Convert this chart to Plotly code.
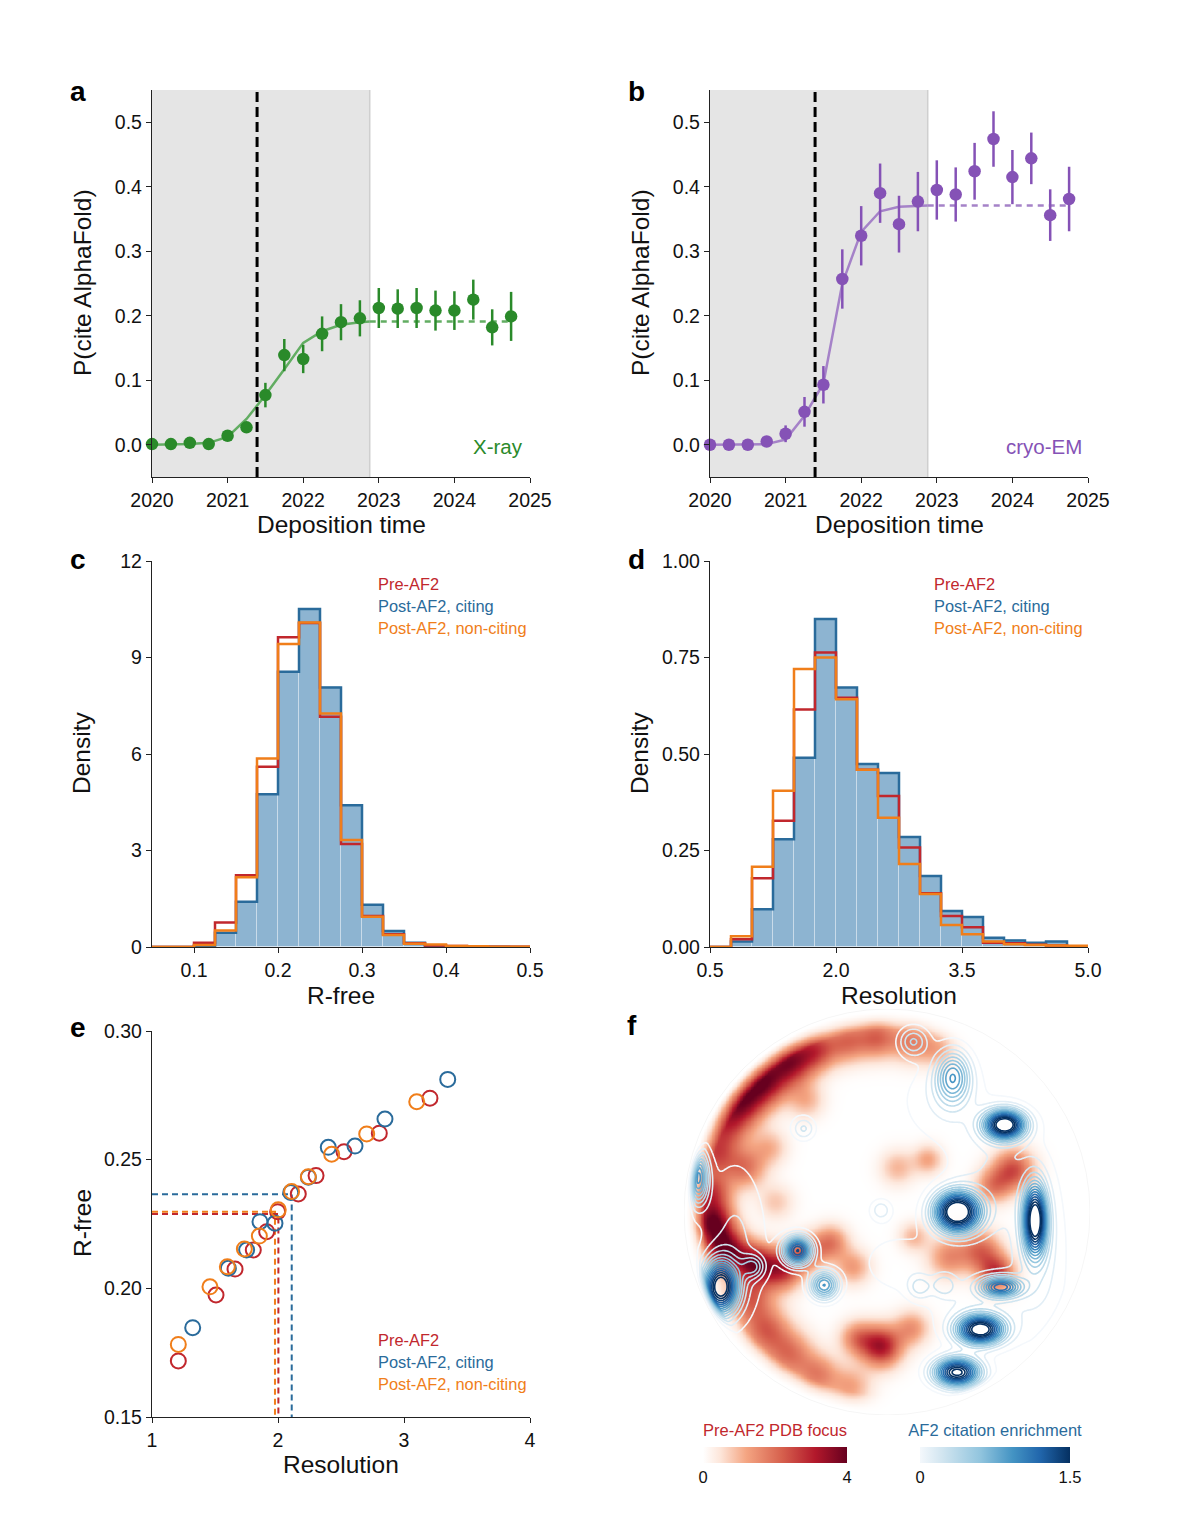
import numpy as np
import plotly.graph_objects as go

FONT = "Liberation Sans, Arial, Helvetica, sans-serif"
W, H = 1180, 1522

# ---------------- Panels a / b data ----------------
time_q = [2020.0, 2020.25, 2020.5, 2020.75, 2021.0, 2021.25, 2021.5, 2021.75, 2022.0, 2022.25,
          2022.5, 2022.75, 2023.0, 2023.25, 2023.5, 2023.75, 2024.0, 2024.25, 2024.5, 2024.75]
xray_p = [0.001, 0.001, 0.003, 0.001, 0.014, 0.027, 0.077, 0.139, 0.133, 0.172,
          0.190, 0.196, 0.212, 0.211, 0.212, 0.208, 0.208, 0.225, 0.182, 0.199]
xray_err = [0.001, 0.001, 0.002, 0.002, 0.004, 0.006, 0.019, 0.025, 0.022, 0.027,
            0.028, 0.028, 0.031, 0.030, 0.031, 0.031, 0.030, 0.031, 0.028, 0.038]
cryo_p = [0.0, 0.0, 0.0, 0.005, 0.017, 0.051, 0.093, 0.257, 0.324, 0.390,
          0.342, 0.377, 0.395, 0.388, 0.424, 0.474, 0.415, 0.444, 0.356, 0.381]
cryo_err = [0.001, 0.001, 0.001, 0.004, 0.013, 0.023, 0.029, 0.046, 0.046, 0.046,
            0.044, 0.046, 0.046, 0.042, 0.044, 0.043, 0.042, 0.040, 0.040, 0.050]
fit_t = [2020.0, 2020.25, 2020.5, 2020.75, 2021.0, 2021.25, 2021.5, 2021.75, 2022.0,
         2022.25, 2022.5, 2022.75, 2022.88]
xray_fit = [0.0, 0.0, 0.001, 0.003, 0.012, 0.040, 0.077, 0.117, 0.158, 0.176, 0.186, 0.190, 0.191]
cryo_fit = [0.0, 0.0, 0.0, 0.001, 0.008, 0.045, 0.095, 0.250, 0.330, 0.362, 0.369, 0.371, 0.371]
xray_plateau = 0.191
cryo_plateau = 0.371
plateau_t = [2022.88, 2024.75]
af2_release = 2021.39
window_end = 2022.88

# ---------------- Panel c / d data ----------------
rfree_edges = [0.05, 0.075, 0.1, 0.125, 0.15, 0.175, 0.2, 0.225, 0.25, 0.275, 0.3,
               0.325, 0.35, 0.375, 0.4, 0.425, 0.45, 0.475, 0.5]
rfree_citing = [0, 0, 0.04, 0.44, 1.41, 4.75, 8.56, 10.51, 8.07, 4.41, 1.31, 0.50, 0.13, 0.03, 0.02, 0.01, 0.005, 0.0]
rfree_pre = [0, 0, 0.13, 0.76, 2.23, 5.60, 9.63, 10.07, 7.16, 3.20, 0.96, 0.40, 0.12, 0.05, 0.03, 0.02, 0.01, 0.005]
rfree_noncit = [0, 0, 0.06, 0.51, 2.17, 5.86, 9.42, 10.09, 7.26, 3.33, 0.94, 0.37, 0.10, 0.08, 0.03, 0.02, 0.01, 0.005]

res_edges = [0.5, 0.75, 1.0, 1.25, 1.5, 1.75, 2.0, 2.25, 2.5, 2.75, 3.0, 3.25, 3.5,
             3.75, 4.0, 4.25, 4.5, 4.75, 5.0]
res_citing = [0, 0.014, 0.098, 0.279, 0.49, 0.85, 0.672, 0.474, 0.451, 0.285, 0.184, 0.093, 0.078, 0.024, 0.017, 0.011, 0.014, 0.0]
res_pre = [0, 0.020, 0.178, 0.327, 0.615, 0.763, 0.646, 0.459, 0.391, 0.258, 0.139, 0.080, 0.051, 0.011, 0.010, 0.006, 0.004, 0.002]
res_noncit = [0, 0.028, 0.208, 0.405, 0.720, 0.750, 0.642, 0.459, 0.335, 0.215, 0.137, 0.057, 0.033, 0.014, 0.007, 0.005, 0.004, 0.003]

# ---------------- Panel e data ----------------
e_pre_res = [1.209, 1.508, 1.659, 1.804, 1.910, 1.997, 2.161, 2.302, 2.524, 2.804, 3.206]
e_pre_rfree = [0.1718, 0.1974, 0.2075, 0.2149, 0.2220, 0.2298, 0.2367, 0.2438, 0.2531, 0.2603, 0.2739]
e_cit_res = [1.323, 1.606, 1.751, 1.857, 1.976, 2.101, 2.241, 2.399, 2.611, 2.849, 3.347]
e_cit_rfree = [0.1847, 0.2078, 0.2149, 0.2259, 0.2253, 0.2372, 0.2432, 0.2548, 0.2553, 0.2658, 0.2812]
e_non_res = [1.209, 1.460, 1.598, 1.733, 1.852, 2.002, 2.108, 2.241, 2.426, 2.704, 3.101]
e_non_rfree = [0.1782, 0.2006, 0.2084, 0.2153, 0.2203, 0.2305, 0.2376, 0.2434, 0.2521, 0.2600, 0.2725]
median_res = {"pre": 2.003, "cit": 2.109, "non": 1.976}
median_rfree = {"pre": 0.2289, "cit": 0.2366, "non": 0.2298}

# ---------------- Panel f data (density blobs, unit-disc coordinates) ----------------
red_u = [-0.72, -0.61, -0.48, -0.35, -0.20, -0.05, 0.12, 0.25, -0.80, -0.85, -0.70, -0.87, -0.86,
         -0.80, -0.66, -0.52, -0.40, -0.28, -0.17, -0.68, -0.60, -0.48, -0.34, -0.18, -0.58,
         -0.03, -0.15, 0.12, 0.62, 0.52, 0.46, 0.30, 0.54, 0.13, 0.05, 0.20, -0.55, -0.40]
red_v = [0.54, 0.64, 0.74, 0.80, 0.84, 0.86, 0.84, 0.80, 0.42, 0.28, 0.22, 0.10, -0.05,
         -0.18, -0.25, -0.28, -0.20, -0.15, -0.27, -0.42, -0.58, -0.70, -0.80, -0.86, 0.32,
         -0.66, -0.62, -0.57, 0.21, 0.13, -0.19, -0.22, -0.30, -0.12, 0.22, 0.26, 0.05, 0.55]
red_amp = [3.0, 3.2, 3.2, 2.2, 1.8, 2.0, 1.6, 1.0, 2.2, 2.0, 1.8, 2.5, 3.6,
           3.6, 3.2, 2.8, 1.8, 1.8, 1.3, 2.0, 2.0, 1.8, 1.6, 1.2, 1.0,
           3.2, 1.6, 1.4, 2.4, 1.6, 2.0, 1.5, 2.6, 1.0, 1.0, 1.2, 0.8, 1.0]
red_sig = [0.08, 0.08, 0.08, 0.07, 0.07, 0.07, 0.07, 0.06, 0.08, 0.07, 0.07, 0.07, 0.07,
           0.07, 0.07, 0.07, 0.06, 0.06, 0.06, 0.08, 0.08, 0.08, 0.07, 0.07, 0.06,
           0.07, 0.06, 0.06, 0.07, 0.06, 0.07, 0.07, 0.06, 0.05, 0.06, 0.05, 0.06, 0.06]

blue_u = [0.325, 0.58, 0.345, 0.73, 0.56, 0.46, 0.345, -0.82, -0.44, -0.31, -0.93, -0.41, 0.13,
          -0.66, -0.03, 0.16, 0.28, 0.55, -0.75, 0.45, 0.25, 0.05, 0.75, -0.55]
blue_v = [0.665, 0.43, 0.0, -0.04, -0.37, -0.58, -0.79, -0.37, -0.19, -0.36, 0.17, 0.41, 0.84,
          -0.27, 0.01, -0.37, -0.36, 0.15, -0.15, -0.45, 0.55, -0.25, -0.25, 0.65]
blue_amp = [0.8, 1.65, 1.75, 1.56, 1.0, 1.57, 1.56, 1.55, 1.3, 0.9, 0.9, 0.3, 0.4,
            0.4, 0.25, 0.25, 0.25, 0.22, 0.22, 0.2, 0.16, 0.15, 0.2, 0.08]
blue_su = [0.06, 0.07, 0.08, 0.04, 0.07, 0.08, 0.08, 0.06, 0.05, 0.05, 0.035, 0.04, 0.05,
           0.04, 0.04, 0.04, 0.04, 0.18, 0.12, 0.18, 0.15, 0.15, 0.1, 0.15]
blue_sv = [0.09, 0.05, 0.07, 0.12, 0.035, 0.05, 0.05, 0.09, 0.05, 0.05, 0.09, 0.04, 0.05,
           0.04, 0.04, 0.04, 0.04, 0.25, 0.3, 0.15, 0.15, 0.12, 0.25, 0.15]

# colours
C_RED = "#c1272d"
C_BLUE = "#2a6b9b"
C_ORANGE = "#f07e1a"
C_FILL = "#8db4d1"
C_GREEN = "#2a8a2a"
C_GREEN_L = "#62ad62"
C_PURPLE = "#8552b6"
C_PURPLE_L = "#a582c8"
AXC = "#222222"

fig = go.Figure()


def xd(a, b):
    return [a / W, b / W]


def yd(top, bot):
    return [1 - bot / H, 1 - top / H]


# ---------------- panels a/b ----------------
def time_panel(xa, ya, vals, errs, fit, plateau, col, col_l):
    fig.add_trace(go.Scatter(x=fit_t, y=fit, mode="lines", line=dict(color=col_l, width=2.5),
                             xaxis=xa, yaxis=ya, showlegend=False, hoverinfo="skip"))
    fig.add_trace(go.Scatter(x=plateau_t, y=[plateau, plateau], mode="lines",
                             line=dict(color=col_l, width=2.5, dash="6px,5px"),
                             xaxis=xa, yaxis=ya, showlegend=False))
    fig.add_trace(go.Scatter(x=time_q, y=vals, mode="markers",
                             marker=dict(color=col, size=12.5),
                             error_y=dict(type="data", array=errs, color=col, thickness=2.5, width=0),
                             xaxis=xa, yaxis=ya, showlegend=False, cliponaxis=False))


time_panel("x", "y", xray_p, xray_err, xray_fit, xray_plateau, C_GREEN, C_GREEN_L)
time_panel("x2", "y2", cryo_p, cryo_err, cryo_fit, cryo_plateau, C_PURPLE, C_PURPLE_L)

for xr, yr in [("x", "y"), ("x2", "y2")]:
    fig.add_shape(type="rect", xref=xr, yref=yr, x0=2020, x1=window_end, y0=-0.05, y1=0.55,
                  fillcolor="#e5e5e5", line=dict(width=0), layer="below")
    fig.add_shape(type="line", xref=xr, yref=yr, x0=window_end, x1=window_end, y0=-0.05, y1=0.55,
                  line=dict(color="#cfcfcf", width=1.5), layer="below")
    fig.add_shape(type="line", xref=xr, yref=yr, x0=af2_release, x1=af2_release, y0=-0.05, y1=0.55,
                  line=dict(color="black", width=3, dash="10px,5px"))


# ---------------- panels c/d ----------------
def hist_panel(xa, ya, edges, cit, pre, non):
    centers = [(edges[i] + edges[i + 1]) / 2 for i in range(len(edges) - 1)]
    width = edges[1] - edges[0]
    fig.add_trace(go.Bar(x=centers, y=cit, width=width, marker=dict(color=C_FILL,
                         line=dict(color="rgba(255,255,255,0.3)", width=1)),
                         xaxis=xa, yaxis=ya, showlegend=False))
    for vals, col in [(cit, C_BLUE), (pre, C_RED), (non, C_ORANGE)]:
        fig.add_trace(go.Scatter(x=edges, y=list(vals) + [vals[-1]], mode="lines",
                                 line=dict(color=col, width=2.5, shape="hv"),
                                 xaxis=xa, yaxis=ya, showlegend=False))


hist_panel("x3", "y3", rfree_edges, rfree_citing, rfree_pre, rfree_noncit)
hist_panel("x4", "y4", res_edges, res_citing, res_pre, res_noncit)

# ---------------- panel e ----------------
for key, col in [("non", C_ORANGE), ("pre", C_RED), ("cit", C_BLUE)]:
    fig.add_trace(go.Scatter(x=[1, median_res[key], median_res[key]],
                             y=[median_rfree[key], median_rfree[key], 0.15], mode="lines",
                             line=dict(color=col, width=2, dash="6px,4px"),
                             xaxis="x5", yaxis="y5", showlegend=False))
for xs, ys, col in [(e_pre_res, e_pre_rfree, C_RED), (e_cit_res, e_cit_rfree, C_BLUE),
                    (e_non_res, e_non_rfree, C_ORANGE)]:
    fig.add_trace(go.Scatter(x=xs, y=ys, mode="markers",
                             marker=dict(symbol="circle-open", size=15, color=col, line=dict(width=2)),
                             xaxis="x5", yaxis="y5", showlegend=False, cliponaxis=False))

# ---------------- panel f ----------------
gu = np.linspace(-1, 1, 261)
U, V = np.meshgrid(gu, gu)
R = np.sqrt(U ** 2 + V ** 2)
red = np.zeros_like(U)
for cx, cy, a, s in zip(red_u, red_v, red_amp, red_sig):
    red += a * np.exp(-((U - cx) ** 2 + (V - cy) ** 2) / (2 * s * s))
red = np.clip(red, 0, 4) * np.clip((0.99 - R) / 0.09, 0, 1)
blue = np.zeros_like(U)
for cx, cy, a, su, sv in zip(blue_u, blue_v, blue_amp, blue_su, blue_sv):
    blue += a * np.exp(-((U - cx) ** 2 / (2 * su * su) + (V - cy) ** 2 / (2 * sv * sv)))
blue = blue * np.clip((1.0 - R) / 0.05, 0, 1)

red_cs = [[0, "#ffffff"], [0.12, "#fde6da"], [0.3, "#f4a582"], [0.55, "#d6604d"],
          [0.78, "#b2182b"], [1, "#67001f"]]
blue_cs = [[0, "#f4f8fc"], [0.15, "#d1e5f0"], [0.4, "#92c5de"], [0.62, "#4393c3"],
           [0.8, "#2166ac"], [1, "#053061"]]

CB_Y = 1 - 1481 / H
fig.add_trace(go.Heatmap(x=gu, y=gu, z=red, zmin=0, zmax=4, colorscale=red_cs, zsmooth="best",
                         xaxis="x6", yaxis="y6", hoverinfo="skip",
                         colorbar=dict(orientation="h", x=703 / W, xanchor="left",
                                       y=CB_Y, yanchor="bottom", len=144, lenmode="pixels",
                                       thickness=16, tickvals=[0, 4], ticks="", outlinewidth=0,
                                       xpad=0, ypad=0, tickfont=dict(size=16.5, color="#111", family=FONT),
                                       title=dict(text="Pre-AF2 PDB focus", side="top",
                                                  font=dict(size=16.5, color=C_RED, family=FONT)))))
fig.add_trace(go.Contour(x=gu, y=gu, z=blue, zmin=0, zmax=1.5, zauto=False, colorscale=blue_cs,
                         contours=dict(start=0.1, end=1.5, size=0.1, coloring="lines"),
                         line=dict(width=1.6), showscale=False, xaxis="x6", yaxis="y6",
                         hoverinfo="skip"))
fig.add_trace(go.Scatter(x=[5], y=[5], mode="markers", xaxis="x6", yaxis="y6", showlegend=False,
                         marker=dict(color=[0], cmin=0, cmax=1.5, colorscale=blue_cs, showscale=True,
                                     colorbar=dict(orientation="h", x=920 / W, xanchor="left",
                                                   y=CB_Y, yanchor="bottom", len=150,
                                                   lenmode="pixels", thickness=16, tickvals=[0, 1.5],
                                                   ticks="", outlinewidth=0, xpad=0, ypad=0,
                                                   tickfont=dict(size=16.5, color="#111", family=FONT),
                                                   title=dict(text="AF2 citation enrichment", side="top",
                                                              font=dict(size=16.5, color=C_BLUE, family=FONT))))))
fig.add_shape(type="circle", xref="x6", yref="y6", x0=-1, x1=1, y0=-1, y1=1,
              line=dict(color="rgba(0,0,0,0.04)", width=1))

# ---------------- axes ----------------
tickfont = dict(size=19.5, color="#111", family=FONT)
base = dict(showline=True, linecolor=AXC, linewidth=1.3, ticks="outside", ticklen=5, tickwidth=1.3,
            tickcolor=AXC, showgrid=False, zeroline=False, tickfont=tickfont, mirror=False)

yr_ticks = [2020, 2021, 2022, 2023, 2024, 2025]
p_ticks = [0.0, 0.1, 0.2, 0.3, 0.4, 0.5]
layout_axes = dict(
    xaxis=dict(base, domain=xd(152, 530), anchor="y", range=[2020, 2025], tickvals=yr_ticks),
    yaxis=dict(base, domain=yd(90, 477), anchor="x", range=[-0.05, 0.55], tickvals=p_ticks,
               ticktext=["0.0", "0.1", "0.2", "0.3", "0.4", "0.5"]),
    xaxis2=dict(base, domain=xd(710, 1088), anchor="y2", range=[2020, 2025], tickvals=yr_ticks),
    yaxis2=dict(base, domain=yd(90, 477), anchor="x2", range=[-0.05, 0.55], tickvals=p_ticks,
                ticktext=["0.0", "0.1", "0.2", "0.3", "0.4", "0.5"]),
    xaxis3=dict(base, domain=xd(152, 530), anchor="y3", range=[0.05, 0.5],
                tickvals=[0.1, 0.2, 0.3, 0.4, 0.5], ticktext=["0.1", "0.2", "0.3", "0.4", "0.5"]),
    yaxis3=dict(base, domain=yd(561, 947), anchor="x3", range=[0, 12], tickvals=[0, 3, 6, 9, 12]),
    xaxis4=dict(base, domain=xd(710, 1088), anchor="y4", range=[0.5, 5.0],
                tickvals=[0.5, 2.0, 3.5, 5.0], ticktext=["0.5", "2.0", "3.5", "5.0"]),
    yaxis4=dict(base, domain=yd(561, 947), anchor="x4", range=[0, 1.0],
                tickvals=[0, 0.25, 0.5, 0.75, 1.0], ticktext=["0.00", "0.25", "0.50", "0.75", "1.00"]),
    xaxis5=dict(base, domain=xd(152, 530), anchor="y5", range=[1, 4], tickvals=[1, 2, 3, 4]),
    yaxis5=dict(base, domain=yd(1031, 1417), anchor="x5", range=[0.15, 0.30],
                tickvals=[0.15, 0.20, 0.25, 0.30], ticktext=["0.15", "0.20", "0.25", "0.30"]),
    xaxis6=dict(domain=xd(684, 1090), anchor="y6", range=[-1, 1], visible=False),
    yaxis6=dict(domain=yd(1009, 1415), anchor="x6", range=[-1, 1], visible=False),
)

ann = []


def text(x, y, s, size=18, color="#111", angle=0, xanchor="center", bold=False):
    ann.append(dict(x=x / W, y=1 - y / H, xref="paper", yref="paper", text=f"<b>{s}</b>" if bold else s,
                    showarrow=False, textangle=angle, xanchor=xanchor, yanchor="middle",
                    font=dict(size=size, color=color, family=FONT)))


for lab, x, y in [("a", 78, 92), ("b", 636, 92), ("c", 78, 560), ("d", 636, 560), ("e", 78, 1027), ("f", 632, 1025)]:
    text(x, y, lab, size=28, color="#000", bold=True)
TS = 24.5
text(82, 283, "P(cite AlphaFold)", size=TS, angle=-90)
text(640, 283, "P(cite AlphaFold)", size=TS, angle=-90)
text(341, 525, "Deposition time", size=TS)
text(899, 525, "Deposition time", size=TS)
text(82, 753, "Density", size=TS, angle=-90)
text(640, 753, "Density", size=TS, angle=-90)
text(341, 995, "R-free", size=TS)
text(899, 995, "Resolution", size=TS)
text(82, 1223, "R-free", size=TS, angle=-90)
text(341, 1464, "Resolution", size=TS)
text(525, 446, "X-ray", size=20.5, color=C_GREEN, xanchor="right")
text(1084, 446, "cryo-EM", size=20.5, color=C_PURPLE, xanchor="right")
for x0, y0 in [(376, 584), (932, 584), (376, 1340)]:
    text(x0, y0, "Pre-AF2", size=16.4, color=C_RED, xanchor="left")
    text(x0, y0 + 22, "Post-AF2, citing", size=16.4, color=C_BLUE, xanchor="left")
    text(x0, y0 + 44, "Post-AF2, non-citing", size=16.4, color=C_ORANGE, xanchor="left")

fig.update_layout(width=W, height=H, margin=dict(l=0, r=0, t=0, b=0, autoexpand=False),
                  paper_bgcolor="white",
                  plot_bgcolor="rgba(0,0,0,0)", font=dict(family=FONT), bargap=0, barmode="overlay",
                  annotations=ann, showlegend=False, **layout_axes)

fig.write_html("out.html")
